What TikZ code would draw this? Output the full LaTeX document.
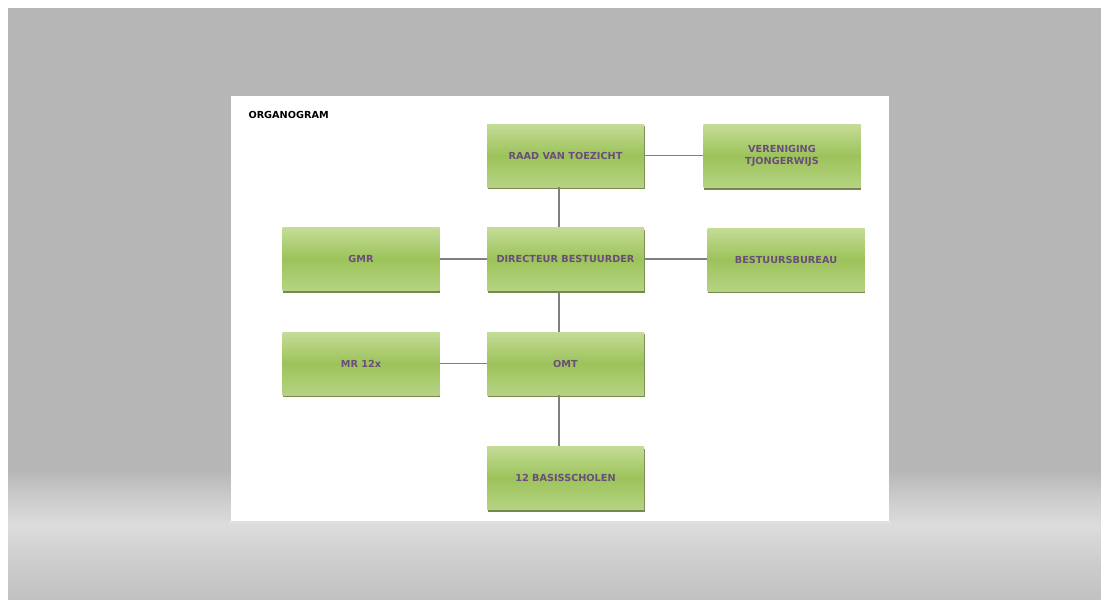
\documentclass[tikz,border=0pt]{standalone}
\usepackage{xcolor}
\usepackage{fontspec}
\setmainfont{DejaVu Sans}
\usepackage{tikz}
\usetikzlibrary{shadows}

\definecolor{bgGray}{HTML}{B5B6B5}
\definecolor{bgLow}{HTML}{C0C1C0}
\definecolor{bgLight}{HTML}{DCDCDC}
\definecolor{boxTop}{HTML}{C4DC96}
\definecolor{boxMid}{HTML}{9CC35A}
\definecolor{boxBot}{HTML}{B6D383}
\definecolor{boxShadow}{HTML}{77884F}
\definecolor{boxText}{HTML}{6A4D7B}
\definecolor{linkGray}{HTML}{7F7F7F}

\pgfdeclareverticalshading{floor}{100bp}{color(0bp)=(bgLow); color(25bp)=(bgLow);
  color(28bp)=(bgLow!60!bgLight); color(31.3bp)=(bgLight); color(33.5bp)=(bgLight!60!bgGray);
  color(36bp)=(bgGray); color(75bp)=(bgGray); color(100bp)=(bgGray)}

\begin{document}
\begin{tikzpicture}[x=1pt,y=-1pt,
		orgbox/.style={rectangle, minimum width=157pt, minimum height=63pt, inner sep=0pt,
			top color=boxTop, bottom color=boxBot, middle color=boxMid,
			drop shadow={shadow xshift=0.8pt, shadow yshift=-2pt, fill=boxShadow, opacity=1},
			align=center, text=boxText, font=\fontsize{9.7}{12}\selectfont\bfseries},
		link/.style={draw=linkGray, line width=1.3pt}]
		\useasboundingbox (0,0) rectangle (1101,600);
		% background and page
		\fill[white] (0,0) rectangle (1101,600);
		\shade[shading=floor] (8,8) rectangle (1101,600);
		\fill[black!12] (229,521) rectangle (891,523.5);
		\fill[white] (231,96) rectangle (889,521);
		\node[anchor=west, font=\fontsize{9.7}{12}\selectfont\bfseries] (title) at (245,115) {ORGANOGRAM};
		% boxes
		\node[orgbox] (raad) at (565.5,155.5) {RAAD VAN TOEZICHT};
		\node[orgbox] (vereniging) at (782,156) {VERENIGING\\TJONGERWIJS};
		\node[orgbox] (gmr) at (361,259) {GMR};
		\node[orgbox] (dir) at (565.5,259) {DIRECTEUR BESTUURDER};
		\node[orgbox] (bureau) at (786,259.5) {BESTUURSBUREAU};
		\node[orgbox] (mr) at (361,363.5) {MR 12x};
		\node[orgbox] (omt) at (565.5,363.5) {OMT};
		\node[orgbox] (scholen) at (565.5,478) {12 BASISSCHOLEN};
		% connectors
		\draw[link] (raad.east) -- (raad.east -| vereniging.west);
		\draw[link] ([xshift=-6.5pt]raad.south) -- ([xshift=-6.5pt]dir.north);
		\draw[link] (gmr.east) -- (dir.west);
		\draw[link] (dir.east) -- (dir.east -| bureau.west);
		\draw[link] ([xshift=-6.5pt]dir.south) -- ([xshift=-6.5pt]omt.north);
		\draw[link] (mr.east) -- (omt.west);
		\draw[link] ([xshift=-6.5pt]omt.south) -- ([xshift=-6.5pt]scholen.north);
	\end{tikzpicture}
\end{document}
